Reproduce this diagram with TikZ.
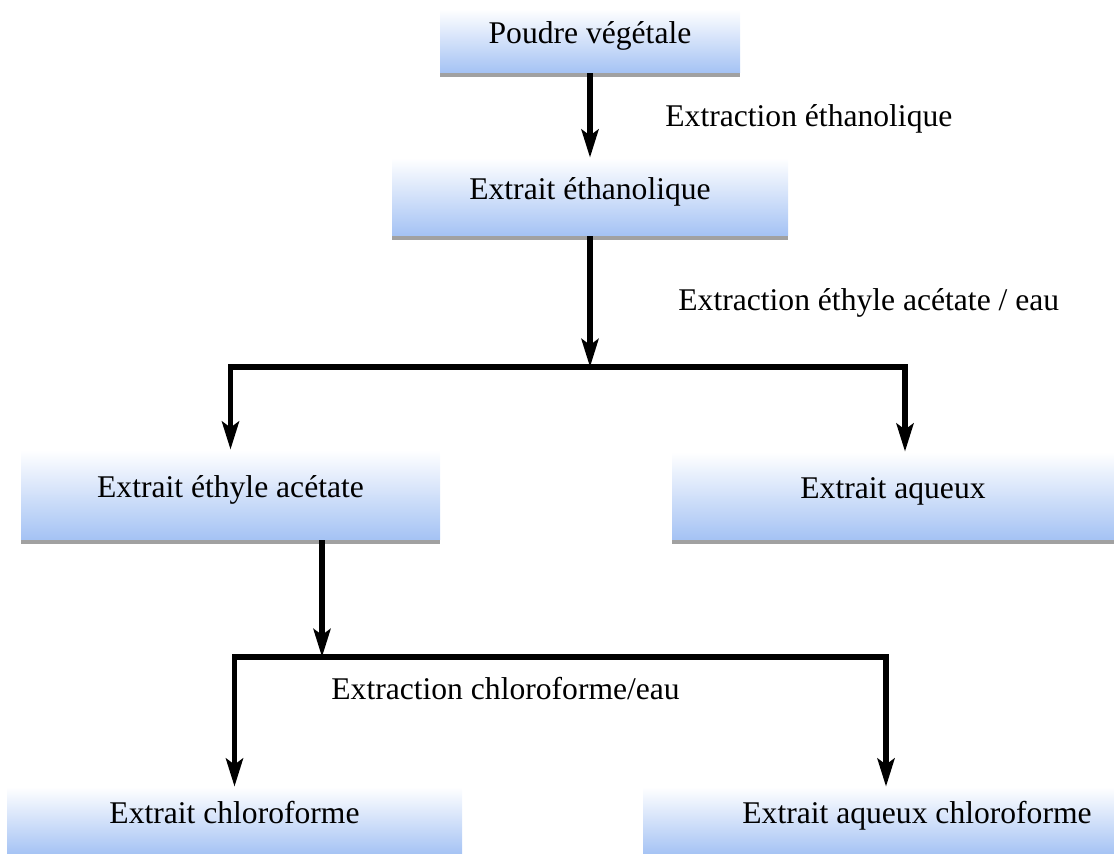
\documentclass[tikz,border=0pt]{standalone}
\usepackage{fontspec}
\setmainfont{Liberation Serif}
\usetikzlibrary{arrows.meta,positioning,shadows}
\definecolor{boxblue}{RGB}{164,194,244}
\definecolor{boxmid}{RGB}{208,214,230}

\begin{document}
\begin{tikzpicture}[
        x=0.5pt, y=-0.5pt,
        every node/.style={font=\fontsize{15.8}{19}\selectfont},
        box/.style={rectangle, draw=none, inner sep=0pt,
            top color=white, middle color=boxmid, bottom color=boxblue,
            text height=11pt, text depth=8pt,
            drop shadow={shadow xshift=0pt, shadow yshift=-2pt, fill=black!37, opacity=1}},
        flow/.style={draw, line width=2.6pt, line join=miter,
            -{Stealth[length=14pt, width=8.5pt, inset=3pt]}},
        split/.style={draw, line width=2.6pt, line join=miter,
            {Stealth[length=14pt, width=8.5pt, inset=3pt]}-{Stealth[length=14pt, width=8.5pt, inset=3pt]}},
        lbl/.style={anchor=base west, inner sep=0pt},
    ]

    \useasboundingbox (0,0) rectangle (1114,854);

    % Start
    \node[box, minimum width=150pt, minimum height=32pt] (poudre) at (590,41) {Poudre végétale};
    \node[box, minimum width=198pt, minimum height=39pt] (ethan) at (590,197) {Extrait éthanolique};
    \draw[flow] (poudre) -- (ethan);
    \node[lbl] (lblEthan) at (665,127) {Extraction éthanolique};

    % === FIRST PARTITION: ethyle acetate / eau ===
    \node[box, minimum width=209.5pt, minimum height=45pt] (acetate) at (230.5,495) {Extrait éthyle acétate};
    \node[box, minimum width=221pt, minimum height=44pt] (aqueux) at (893,496) {Extrait aqueux};

    \coordinate (hL) at (230.5,367);
    \coordinate (hR) at (905,367);
    \coordinate (sp1) at (590,367);
    \draw[flow] (ethan) -- (sp1);
    \draw[split] (acetate.north) -- (hL) -- (hR) -- (hR |- aqueux.north);
    \node[lbl] (lblAcet) at (678,311) {Extraction éthyle acétate / eau};

    % === SECOND PARTITION: chloroforme / eau ===
    \node[box, minimum width=227.5pt, minimum height=34pt] (chloro) at (234.5,821) {Extrait chloroforme};
    \node[box, minimum width=274pt, minimum height=34pt] (aqchloro) at (917,821) {Extrait aqueux chloroforme};

    \coordinate (hL2) at (234.5,657);
    \coordinate (hR2) at (886,657);
    \coordinate (sp2) at (322,657);
    \draw[flow] (sp2 |- acetate.south) -- (sp2);
    \draw[split] (chloro.north) -- (hL2) -- (hR2) -- (hR2 |- aqchloro.north);
    \node[lbl] (lblChloro) at (331,700) {Extraction chloroforme/eau};

\end{tikzpicture}
\end{document}
